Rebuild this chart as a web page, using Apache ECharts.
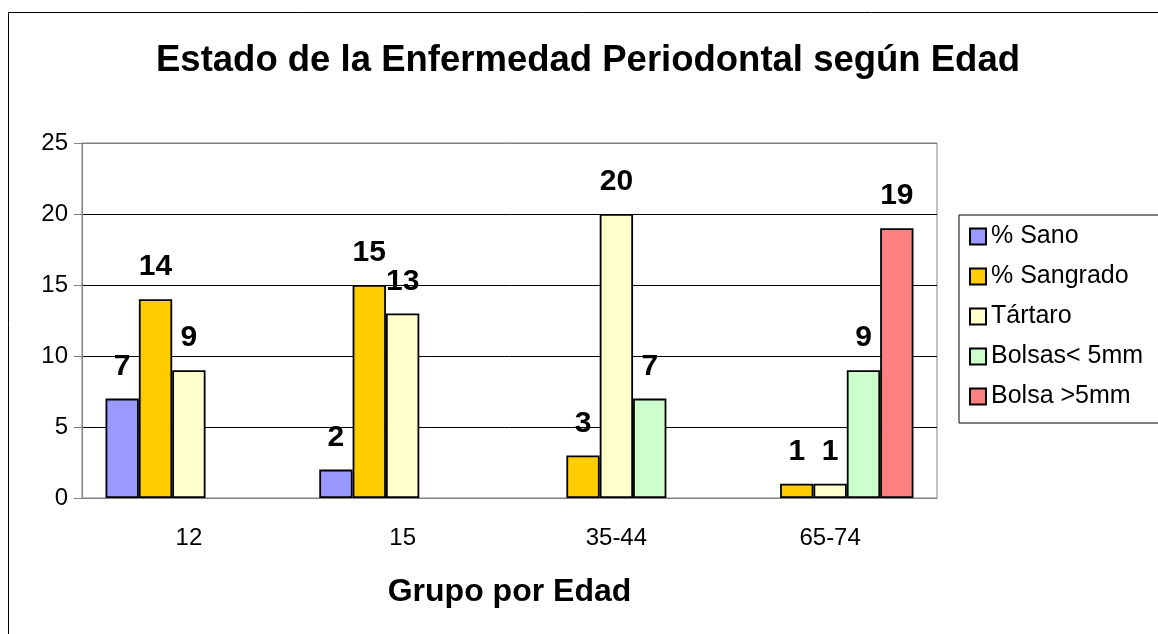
<!DOCTYPE html>
<html>
<head>
<meta charset="utf-8">
<title>Estado de la Enfermedad Periodontal según Edad</title>
<script src="https://cdn.jsdelivr.net/npm/echarts@6/dist/echarts.min.js"></script>
<style>
  html, body { margin: 0; padding: 0; background: #fff; }
  #chart { width: 1158px; height: 634px; }
</style>
</head>
<body>
<div id="chart"></div>
<script>
var categories = ['12', '15', '35-44', '65-74'];
var seriesNames = ['% Sano', '% Sangrado', 'Tártaro', 'Bolsas< 5mm', 'Bolsa >5mm'];
var sano = [7, 2, 0, 0];
var sangrado = [14, 15, 3, 1];
var tartaro = [9, 13, 20, 1];
var bolsasMenor = [0, 0, 7, 9];
var bolsaMayor = [0, 0, 0, 19];
var colors = ['#9999FF', '#FFCC00', '#FFFFCC', '#CCFFCC', '#FF8080'];

var values = [sano, sangrado, tartaro, bolsasMenor, bolsaMayor];
var FONT = '"Liberation Sans", Arial, sans-serif';

var series = [];
for (var i = 0; i < values.length; i++) {
  series.push({
    name: seriesNames[i],
    type: 'bar',
    barGap: '0%',
    barCategoryGap: '22%',
    // zero values are left empty, like the original
    data: values[i].map(function (v) { return v === 0 ? null : v; }),
    itemStyle: { color: colors[i], borderColor: '#000', borderWidth: 1.8 },
    label: {
      show: true,
      position: 'top',
      distance: 17,
      color: '#000',
      fontFamily: FONT,
      fontWeight: 'bold',
      fontSize: 30
    }
  });
}

var myChart = echarts.init(document.getElementById('chart'));
myChart.setOption({
  animation: false,
  title: {
    text: 'Estado de la Enfermedad Periodontal según Edad',
    left: 583,
    top: 37,
    textAlign: 'center',
    textStyle: { fontFamily: FONT, fontWeight: 'bold', fontSize: 36.5, color: '#000' }
  },
  legend: {
    orient: 'vertical',
    left: 959,
    top: 215,
    padding: [9, 30, 14, 10],
    itemWidth: 16,
    itemHeight: 16,
    itemGap: 15,
    borderColor: '#000',
    borderWidth: 1,
    icon: 'rect',
    textStyle: { fontFamily: FONT, fontSize: 25, color: '#000' },
    data: seriesNames
  },
  graphic: [{
    type: 'rect',
    shape: { x: 8.5, y: 12.5, width: 1300, height: 800 },
    style: { fill: 'none', stroke: '#000', lineWidth: 1 },
    silent: true
  }],
  grid: {
    left: 82,
    right: 221,
    top: 143,
    bottom: 136,
    show: true,
    borderColor: '#808080',
    borderWidth: 1
  },
  xAxis: {
    type: 'category',
    data: categories,
    name: 'Grupo por Edad',
    nameLocation: 'middle',
    nameGap: 78,
    nameTextStyle: { fontFamily: FONT, fontWeight: 'bold', fontSize: 32, color: '#000' },
    axisLine: { lineStyle: { color: '#808080', width: 1 } },
    axisTick: { length: 8, lineStyle: { color: '#808080' } },
    axisLabel: { fontFamily: FONT, fontSize: 24, color: '#000', margin: 28 }
  },
  yAxis: {
    type: 'value',
    min: 0,
    max: 25,
    interval: 5,
    axisLine: { show: true, lineStyle: { color: '#808080', width: 1 } },
    axisTick: { show: true, length: 8, lineStyle: { color: '#808080' } },
    axisLabel: { fontFamily: FONT, fontSize: 24, color: '#000', margin: 14 },
    splitLine: { lineStyle: { color: ['#808080', '#000', '#000', '#000', '#000', '#808080'], width: 1 } }
  },
  series: series
});
</script>
</body>
</html>
